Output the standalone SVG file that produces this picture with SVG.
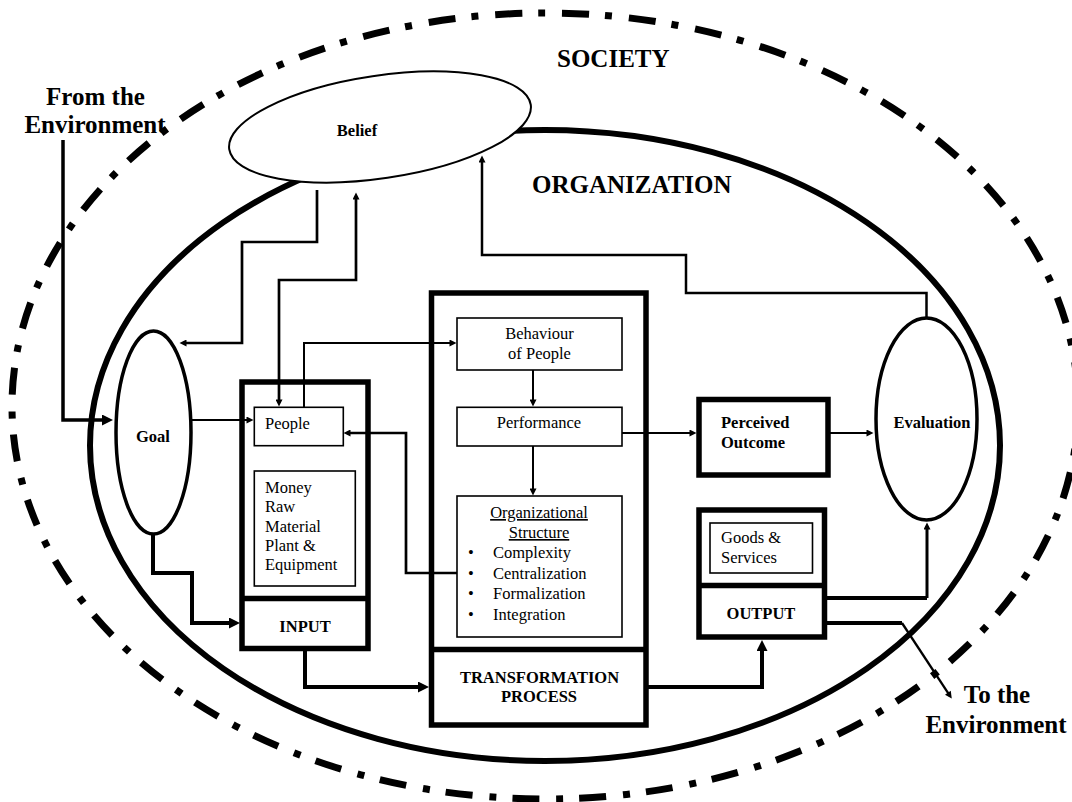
<svg xmlns="http://www.w3.org/2000/svg" width="1072" height="802" viewBox="0 0 1072 802" font-family="'Liberation Serif', 'DejaVu Serif', serif">
<style>
text{font-family:'Liberation Serif','DejaVu Serif',serif;fill:#000}
.big{font-size:25px;font-weight:bold}
.lb{font-size:16.5px;font-weight:bold}
.tx{font-size:16.5px}
.c{text-anchor:middle}
.ul{text-decoration:underline}
.wbox{fill:#fff;stroke:#000;stroke-width:5.5}
.ibox{fill:#fff;stroke:#000;stroke-width:1.6}
.ell{fill:#fff;stroke:#000;stroke-width:3.5}
.ln{fill:none;stroke:#000}
.k{stroke-width:4}
.m{stroke-width:2.7}
.t{stroke-width:2}
</style>
<defs>
<marker id="at" viewBox="0 0 10 10" refX="5" refY="5" markerWidth="8" markerHeight="7" markerUnits="userSpaceOnUse" orient="auto-start-reverse"><path d="M0,0 L10,5 L0,10 z" fill="#000"/></marker>
<marker id="ak" viewBox="0 0 10 10" refX="5" refY="5" markerWidth="11" markerHeight="11" markerUnits="userSpaceOnUse" orient="auto-start-reverse"><path d="M0,0 L10,5 L0,10 z" fill="#000"/></marker>
</defs>
<rect width="1072" height="802" fill="#fff"/>

<g id="society">
<ellipse cx="545" cy="406" rx="533" ry="393" fill="none" stroke="#000" stroke-width="7" stroke-dasharray="27 16 7 17"/>
<text class="big" x="557" y="67">SOCIETY</text>
</g>

<g id="organization">
<ellipse cx="545" cy="445.5" rx="455" ry="315.5" fill="none" stroke="#000" stroke-width="6"/>
<text class="big" x="532" y="193">ORGANIZATION</text>
</g>

<g id="from-env">
<text class="big c" x="95.5" y="105">From the</text>
<text class="big c" x="95" y="133">Environment</text>
</g>

<g id="to-env">
<text class="big c" x="997" y="703">To the</text>
<text class="big c" x="996" y="733">Environment</text>
</g>

<g id="belief">
<ellipse cx="380" cy="127" rx="152.4" ry="51.4" transform="rotate(-8.4 380 127)" fill="#fff" stroke="#000" stroke-width="2"/>
<text class="lb c" x="357" y="136">Belief</text>
</g>

<g id="goal">
<ellipse class="ell" cx="153.5" cy="432.5" rx="37.5" ry="101.5"/>
<text class="lb c" x="153" y="442">Goal</text>
</g>

<g id="evaluation">
<ellipse class="ell" cx="926.5" cy="419" rx="50.5" ry="101"/>
<text class="lb c" x="932" y="428">Evaluation</text>
</g>

<g id="input">
<rect class="wbox" x="242" y="382" width="126" height="266.5"/>
<line class="ln" x1="242" y1="598.5" x2="368" y2="598.5" stroke-width="5.5"/>
<text class="lb c" x="305" y="632">INPUT</text>
</g>

<g id="people">
<rect class="ibox" x="254.3" y="407.3" width="89" height="38.4"/>
<text class="tx" x="265" y="429">People</text>
</g>

<g id="resources">
<rect class="ibox" x="254.3" y="471" width="101" height="115"/>
<text class="tx" x="265" y="493">Money</text>
<text class="tx" x="265" y="512">Raw</text>
<text class="tx" x="265" y="532">Material</text>
<text class="tx" x="265" y="551">Plant &amp;</text>
<text class="tx" x="265" y="570">Equipment</text>
</g>

<g id="transformation">
<rect class="wbox" x="431.5" y="293" width="214.5" height="432"/>
<line class="ln" x1="431.5" y1="649.5" x2="646" y2="649.5" stroke-width="5.5"/>
<text class="lb c" x="539.5" y="683">TRANSFORMATION</text>
<text class="lb c" x="539" y="702">PROCESS</text>
</g>

<g id="behaviour">
<rect class="ibox" x="457" y="318" width="165" height="52"/>
<text class="tx c" x="539.5" y="339">Behaviour</text>
<text class="tx c" x="539.5" y="359">of People</text>
</g>

<g id="performance">
<rect class="ibox" x="457" y="407.3" width="165" height="38.7"/>
<text class="tx c" x="539" y="428">Performance</text>
</g>

<g id="structure">
<rect class="ibox" x="457" y="496" width="165" height="141"/>
<text class="tx c ul" x="539" y="518">Organizational</text>
<text class="tx c ul" x="539" y="538">Structure</text>
<text class="tx c" x="471" y="558">•</text>
<text class="tx c" x="471" y="579">•</text>
<text class="tx c" x="471" y="599">•</text>
<text class="tx c" x="471" y="620">•</text>
<text class="tx" x="493" y="558">Complexity</text>
<text class="tx" x="493" y="579">Centralization</text>
<text class="tx" x="493" y="599">Formalization</text>
<text class="tx" x="493" y="620">Integration</text>
</g>

<g id="perceived">
<rect class="wbox" x="699" y="399.5" width="129" height="75.5"/>
<text class="lb" x="721" y="428">Perceived</text>
<text class="lb" x="721" y="448">Outcome</text>
</g>

<g id="output">
<rect class="wbox" x="699" y="510" width="125.5" height="127"/>
<line class="ln" x1="699" y1="585.5" x2="824.5" y2="585.5" stroke-width="5.5"/>
<text class="lb c" x="761" y="619">OUTPUT</text>
</g>

<g id="goods">
<rect class="ibox" x="710" y="523" width="102.5" height="50"/>
<text class="tx" x="721" y="543">Goods &amp;</text>
<text class="tx" x="721" y="563">Services</text>
</g>

<g id="connectors">
<path class="ln" stroke-width="3.5" d="M63,140 V420 H107.5" marker-end="url(#ak)"/>
<path class="ln t" d="M191,420 H250" marker-end="url(#at)"/>
<path class="ln k" d="M153,534 V573 H192 V623 H234.5" marker-end="url(#ak)"/>
<path class="ln k" d="M305,648.5 V687 H423.5" marker-end="url(#ak)"/>
<path class="ln k" d="M646,687 H762 V645.5" marker-end="url(#ak)"/>
<path class="ln k" d="M824.5,598 H927"/>
<path class="ln" stroke-width="3" d="M927,598 V526" marker-end="url(#at)"/>
<path class="ln k" d="M824.5,623 H902"/>
<path class="ln" stroke-width="2.3" d="M902,623 L949.8,695.7" marker-end="url(#at)"/>
<path class="ln t" d="M622,433 H693" marker-end="url(#at)"/>
<path class="ln t" d="M828,433 H870" marker-end="url(#at)"/>
<path class="ln t" d="M533,370 V403" marker-end="url(#at)"/>
<path class="ln t" d="M533,446 V492" marker-end="url(#at)"/>
<path class="ln t" d="M304,407 V343 H453" marker-end="url(#at)"/>
<path class="ln m" d="M457,573 H406 V433 H347" marker-end="url(#at)"/>
<path class="ln m" d="M356,196 V280 H279 V403" marker-start="url(#at)" marker-end="url(#at)"/>
<path class="ln m" d="M317,190 V242 H242 V343 H183" marker-end="url(#at)"/>
<path class="ln" stroke-width="2.5" d="M926.5,318 V293 H686 V255 H482 V159" marker-end="url(#at)"/>
</g>
</svg>
